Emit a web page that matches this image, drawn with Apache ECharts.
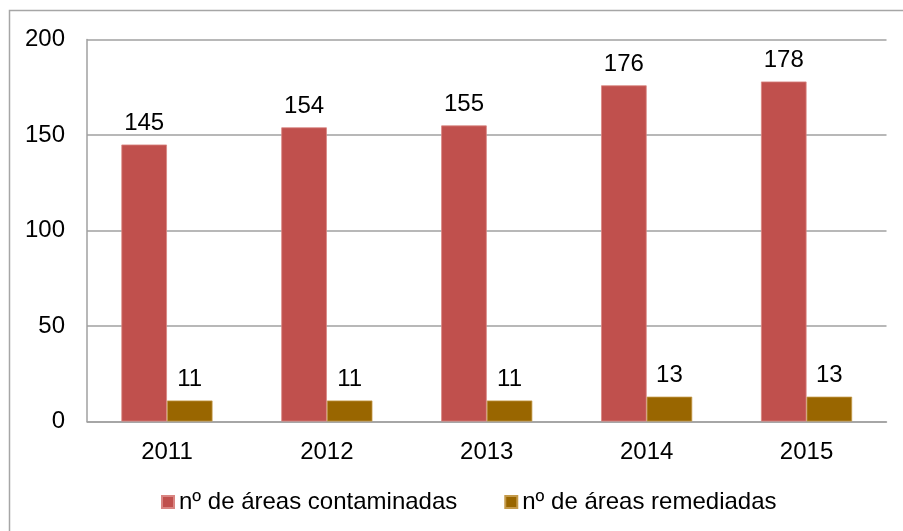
<!DOCTYPE html>
<html>
<head>
<meta charset="utf-8">
<script src="https://cdn.jsdelivr.net/npm/echarts@6/dist/echarts.min.js"></script>
<style>
  html, body { margin: 0; padding: 0; background: #fff; }
  #chart { width: 903px; height: 531px; }
</style>
</head>
<body>
<div id="chart"></div>
<script>
// Contaminated vs. remediated areas per year
const years = ['2011', '2012', '2013', '2014', '2015'];
const contaminadas = [145, 154, 155, 176, 178];
const remediadas = [11, 11, 11, 13, 13];
const yTicks = { min: 0, max: 200, interval: 50 };

const FONT = 'Liberation Sans, Arial, sans-serif';
const FS = 24;
const chart = echarts.init(document.getElementById('chart'), null, { renderer: 'canvas' });

const labelStyle = {
  show: true,
  position: 'top',
  distance: 9,
  color: '#000',
  fontFamily: FONT,
  fontSize: FS
};

chart.setOption({
  animation: false,
  backgroundColor: '#fff',
  textStyle: { fontFamily: FONT },
  graphic: [{
    type: 'rect',
    shape: { x: 9.5, y: 10.5, width: 1000, height: 1000 },
    style: { fill: 'none', stroke: '#a6a6a6', lineWidth: 1.5 },
    silent: true
  }],
  grid: { left: 87, right: 16.5, top: 39.5, bottom: 109.5 },
  legend: {
    bottom: 12,
    left: 156,
    itemWidth: 12,
    itemHeight: 12,
    itemGap: 47,
    icon: 'rect',
    textStyle: { color: '#000', fontFamily: FONT, fontSize: FS },
    data: ['nº de áreas contaminadas', 'nº de áreas remediadas']
  },
  xAxis: {
    type: 'category',
    data: years,
    axisLine: { lineStyle: { color: '#a0a0a0', width: 1.5 } },
    axisTick: { show: false },
    axisLabel: { color: '#000', fontFamily: FONT, fontSize: FS, margin: 19 }
  },
  yAxis: {
    type: 'value',
    min: yTicks.min,
    max: yTicks.max,
    interval: yTicks.interval,
    axisLine: { show: true, lineStyle: { color: '#a0a0a0', width: 1.5 } },
    axisTick: { show: false },
    splitLine: { lineStyle: { color: '#a0a0a0', width: 1.5 } },
    axisLabel: { color: '#000', fontFamily: FONT, fontSize: FS, margin: 22 }
  },
  series: [
    {
      name: 'nº de áreas contaminadas',
      type: 'bar',
      data: contaminadas,
      barGap: '0%',
      barCategoryGap: '43%',
      itemStyle: { color: '#C0504D', borderColor: '#d98582', borderWidth: 0.8 },
      label: labelStyle
    },
    {
      name: 'nº de áreas remediadas',
      type: 'bar',
      data: remediadas,
      itemStyle: { color: '#996600', borderColor: '#c49a4a', borderWidth: 0.8 },
      label: labelStyle
    }
  ]
});
</script>
</body>
</html>
